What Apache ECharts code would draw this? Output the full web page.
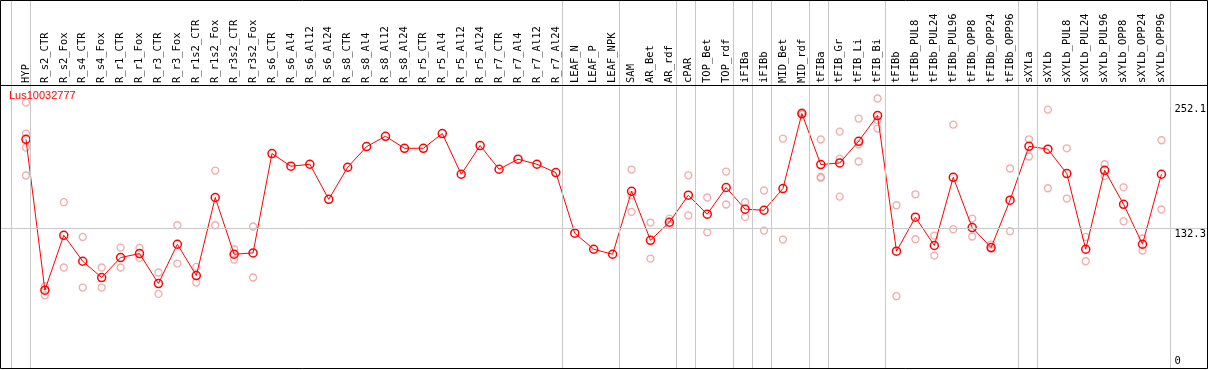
<!DOCTYPE html>
<html>
<head>
<meta charset="utf-8">
<script src="https://cdn.jsdelivr.net/npm/echarts@6/dist/echarts.min.js"></script>
<style>
html,body{margin:0;padding:0;background:#fff;}
#c{width:1209px;height:370px;}
</style>
</head>
<body>
<div id="c"></div>
<script>
// ---- data ----
const chartTitle = 'Lus10032777';
const categories = ['HYP','R_s2_CTR','R_s2_Fox','R_s4_CTR','R_s4_Fox','R_r1_CTR','R_r1_Fox','R_r3_CTR','R_r3_Fox','R_r1s2_CTR','R_r1s2_Fox','R_r3s2_CTR','R_r3s2_Fox','R_s6_CTR','R_s6_Al4','R_s6_Al12','R_s6_Al24','R_s8_CTR','R_s8_Al4','R_s8_Al12','R_s8_Al24','R_r5_CTR','R_r5_Al4','R_r5_Al12','R_r5_Al24','R_r7_CTR','R_r7_Al4','R_r7_Al12','R_r7_Al24','LEAF_N','LEAF_P','LEAF_NPK','SAM','AR_Bet','AR_rdf','cPAR','TOP_Bet','TOP_rdf','iFIBa','iFIBb','MID_Bet','MID_rdf','tFIBa','tFIB_Gr','tFIB_Li','tFIB_Bi','tFIBb','tFIBb_PUL8','tFIBb_PUL24','tFIBb_PUL96','tFIBb_OPP8','tFIBb_OPP24','tFIBb_OPP96','sXYLa','sXYLb','sXYLb_PUL8','sXYLb_PUL24','sXYLb_PUL96','sXYLb_OPP8','sXYLb_OPP24','sXYLb_OPP96'];
const means = [217.8,73.2,125.8,100.9,85.3,104.4,108.3,79.5,117.2,87.2,162.0,107.6,108.9,204.1,192.0,193.9,160.3,191.0,210.8,220.7,209.2,209.2,223.3,184.3,211.8,189.1,198.7,193.9,185.9,127.8,112.4,107.6,168.0,121.0,138.3,164.2,146.0,171.6,150.8,149.8,170.6,242.5,193.6,195.1,215.9,240.6,110.5,143.1,116.0,181.4,133.2,114.0,159.4,211.1,208.3,185.0,112.4,188.1,155.5,117.2,184.3];
const replicates = [
  [253.0,223.3,209.9,183.1],[77.0,68.3],[157.5,94.9],[124.2,75.7],[94.9,75.7],[114.0,94.9],[113.7,104.1],[90.1,69.6],[135.4,98.7],[95.5,80.5],[187.8,135.4],[112.4,102.5],[134.2,85.3],
  [],[],[],[],[],[],[],[],[],[],[],[],[],[],[],[],
  [],[],[],
  [188.8,164.2,148.2],[138.0,103.5],[141.8,135.4],[183.3,144.8],[162.0,128.7],[186.9,155.3],[157.5,143.4],[168.7,130.3],[218.5,121.7],[243.5,241.5],
  [217.6,181.7,180.8],[225.2,199.3,162.9],[237.7,212.8,196.5],[256.9,236.4,228.1],
  [154.6,67.4],[165.1,122.0],[125.5,106.4],[231.9,131.6],[141.8,124.6],[116.9,112.7],[189.8,129.7],
  [217.8,201.3],[246.3,170.9],[209.2,161.0],[124.2,100.9],[193.9,182.7],[171.8,139.3],[122.7,111.2],[216.9,150.5]
];
// last category index of each group (-1 = before first group)
const groupEnds = [-1,0,28,31,34,35,37,38,39,41,42,45,52,53,60];
const refLine = 132.3;
const yTicksTop = [132.3, 252.1];
const yTicksBottom = [0];

// ---- layout ----
const STEP = 19, FIRST_X = 26, PLOT_L = 1, PLOT_R = 1207;
const Y_MAX = 268.9;
const MONO = "'DejaVu Sans Mono', monospace";

const repData = [];
replicates.forEach((arr, i) => arr.forEach(v => repData.push([i, v])));

const sepMin = -(FIRST_X - PLOT_L) / STEP;
const sepMax = (PLOT_R - FIRST_X) / STEP;
const sepData = groupEnds.map(e => ({ xAxis: e + 4.5 / STEP }));

const chart = echarts.init(document.getElementById('c'), null, { renderer: 'canvas' });
const gridTop = 86, gridH = 280.5;
chart.setOption({
  animation: false,
  backgroundColor: '#fff',
  title: {
    text: chartTitle, left: 9, top: 90, padding: 0,
    textStyle: { color: '#ff0000', fontSize: 11, fontWeight: 'normal', fontFamily: "'Liberation Sans', Arial, sans-serif" }
  },
  grid: [
    { left: FIRST_X - STEP / 2, width: STEP * categories.length, top: gridTop, height: gridH },
    { left: PLOT_L, width: PLOT_R - PLOT_L, top: gridTop, height: gridH },
    { left: PLOT_L, width: PLOT_R - PLOT_L, top: 0, height: 369 }
  ],
  xAxis: [
    { type: 'category', gridIndex: 0, position: 'top', data: categories, boundaryGap: true,
      axisLine: { show: false }, axisTick: { show: false }, splitLine: { show: false },
      axisLabel: { rotate: 90, margin: 3, interval: 0, fontFamily: MONO, fontSize: 10.5, color: '#000' } },
    { type: 'value', gridIndex: 1, min: 0, max: 1, show: false },
    { type: 'value', gridIndex: 2, min: sepMin, max: sepMax, show: false }
  ],
  yAxis: [
    { type: 'value', gridIndex: 0, min: 0, max: Y_MAX, position: 'right',
      axisLine: { show: false }, axisTick: { show: false }, splitLine: { show: false },
      axisLabel: { customValues: yTicksTop, margin: 3.5, verticalAlign: 'top', fontFamily: MONO, fontSize: 10.5, color: '#000', formatter: v => String(v) } },
    { type: 'value', gridIndex: 0, min: 0, max: Y_MAX, position: 'right',
      axisLine: { show: false }, axisTick: { show: false }, splitLine: { show: false },
      axisLabel: { customValues: yTicksBottom, margin: 3.5, verticalAlign: 'bottom', fontFamily: MONO, fontSize: 10.5, color: '#000', formatter: v => String(v) } },
    { type: 'value', gridIndex: 1, min: 0, max: Y_MAX, show: false },
    { type: 'value', gridIndex: 2, min: 0, max: 1, show: false }
  ],
  series: [
    { type: 'line', xAxisIndex: 2, yAxisIndex: 3, data: [], silent: true, z: 1,
      markLine: { silent: true, symbol: 'none', label: { show: false },
        lineStyle: { color: '#c8c8c8', width: 1, type: 'solid' }, data: sepData } },
    { type: 'line', xAxisIndex: 1, yAxisIndex: 2, data: [], silent: true, z: 1,
      markLine: { silent: true, symbol: 'none', label: { show: false },
        lineStyle: { color: '#c8c8c8', width: 1, type: 'solid' }, data: [{ yAxis: refLine }] } },
    { type: 'scatter', xAxisIndex: 0, yAxisIndex: 0, data: repData, z: 3,
      symbol: 'circle', symbolSize: 7,
      itemStyle: { color: 'rgba(0,0,0,0)', borderColor: '#ee9898', borderWidth: 1.3 } },
    { type: 'line', xAxisIndex: 0, yAxisIndex: 0, data: means, z: 4,
      showAllSymbol: true, symbol: 'circle', symbolSize: 8,
      lineStyle: { color: '#ff0000', width: 1 },
      itemStyle: { color: 'rgba(0,0,0,0)', borderColor: '#ff0000', borderWidth: 1.5 } }
  ],
  graphic: [
    { type: 'rect', z: 100, silent: true, shape: { x: 0.5, y: 0.5, width: 1207, height: 368 },
      style: { fill: null, stroke: '#000', lineWidth: 1 } },
    { type: 'line', z: 100, silent: true, shape: { x1: 0, y1: 85.5, x2: 1208, y2: 85.5 },
      style: { stroke: '#000', lineWidth: 1 } }
  ]
});
</script>
</body>
</html>
